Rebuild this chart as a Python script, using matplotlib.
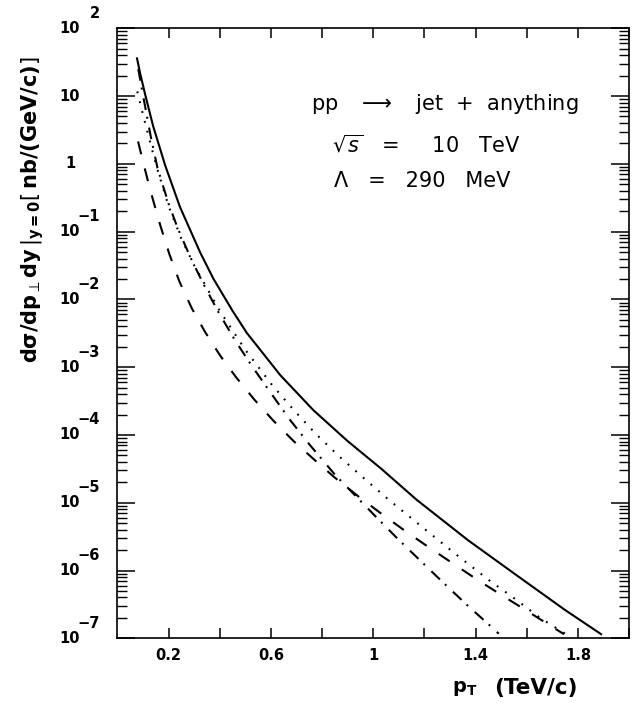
import numpy as np
import matplotlib
matplotlib.use("Agg")
import matplotlib.pyplot as plt
from matplotlib import transforms
from matplotlib.ticker import FixedLocator, FixedFormatter, LogLocator, NullFormatter

plt.rcParams['font.family'] = ['DejaVu Sans']
plt.rcParams['mathtext.fontset'] = 'dejavusans'
plt.rcParams['lines.scale_dashes'] = False

# ---------------- data ----------------
solid_x = [0.077, 0.09, 0.109, 0.14, 0.187, 0.245, 0.324, 0.376, 0.45, 0.506,
           0.637, 0.767, 0.90, 1.03, 1.17, 1.37, 1.56, 1.75, 1.89]
solid_y = [36, 21, 10.5, 3.6, 0.95, 0.23, 0.049, 0.020, 6.8e-3, 3.2e-3,
           7.6e-4, 2.3e-4, 8.1e-5, 3.2e-5, 1.1e-5, 2.8e-6, 8.5e-7, 2.6e-7, 1.15e-7]

dotted_x = [0.078, 0.10, 0.135, 0.155, 0.20, 0.25, 0.30, 0.40, 0.50, 0.604,
            0.689, 0.773, 0.865, 0.956, 1.054, 1.184, 1.315, 1.452, 1.556,
            1.654, 1.758]
dotted_y = [11.7, 5.4, 1.66, 0.87, 0.24, 0.079, 0.032, 6.8e-3, 1.8e-3, 5.5e-4,
            2.34e-4, 1.06e-4, 4.9e-5, 2.43e-5, 1.16e-5, 4.6e-6, 1.83e-6, 7.2e-7,
            3.76e-7, 1.97e-7, 1.12e-7]

dashdot_x = [0.082, 0.10, 0.131, 0.157, 0.20, 0.237, 0.284, 0.336, 0.395, 0.461,
             0.529, 0.597, 0.673, 0.751, 0.85, 1.0, 1.093, 1.181, 1.272, 1.37,
             1.461, 1.49]
dashdot_y = [25, 10.5, 2.5, 0.87, 0.26, 0.11, 0.043, 0.017, 6.5e-3, 2.45e-3,
             1.0e-3, 4.3e-4, 1.7e-4, 7.2e-5, 2.6e-5, 6.8e-6, 3.0e-6, 1.43e-6,
             6.7e-7, 3.0e-7, 1.48e-7, 1.17e-7]

dashed_x = [0.081, 0.10, 0.12, 0.14, 0.169, 0.203, 0.242, 0.291, 0.343, 0.402,
            0.464, 0.536, 0.61, 0.689, 0.773, 0.85, 0.943, 1.038, 1.126, 1.22,
            1.318, 1.409, 1.507, 1.608, 1.711, 1.745]
dashed_y = [2.14, 1.10, 0.55, 0.29, 0.12, 0.047, 0.0186, 7.4e-3, 3.3e-3, 1.48e-3,
            7.1e-4, 3.3e-4, 1.62e-4, 8.1e-5, 4.2e-5, 2.34e-5, 1.23e-5, 6.6e-6,
            3.8e-6, 2.16e-6, 1.22e-6, 7.2e-7, 4.2e-7, 2.43e-7, 1.38e-7, 1.15e-7]

x_ticks = [0.2, 0.4, 0.6, 0.8, 1.0, 1.2, 1.4, 1.6, 1.8, 2.0]
x_ticklabels = ['0.2', '', '0.6', '', '1', '', '1.4', '', '1.8', '']
y_decades = [1e-7, 1e-6, 1e-5, 1e-4, 1e-3, 1e-2, 1e-1, 1e0, 1e1, 1e2]
y_base = ['10', '10', '10', '10', '10', '10', '10', '1', '10', '10']
y_sup = ['\u22127', '\u22126', '\u22125', '\u22124', '\u22123', '\u22122', '\u22121', '', '', '2']

ann_lines = [r'pp   $\longrightarrow$   jet  +  anything',
             r'$\sqrt{s}$   =     10   TeV',
             '\u039b   =   290   MeV']

# ---------------- figure ----------------
W, H = 633, 711
fig = plt.figure(figsize=(W / 100, H / 100), dpi=100)
ax = fig.add_axes([117.3 / W, 1 - 638.3 / H, 512 / W, 610 / H])
ax.set_yscale('log')
ax.set_xlim(0, 2.0)
ax.set_ylim(1e-7, 1e2)

lw = 1.5
ax.plot(solid_x, solid_y, color='black', lw=lw, linestyle='-')
ax.plot(dotted_x, dotted_y, color='black', lw=lw, linestyle=(0, (1.3, 6.0)))
ax.plot(dashdot_x, dashdot_y, color='black', lw=lw, linestyle=(0, (8.5, 5.0, 1.4, 6.5)))
ax.plot(dashed_x, dashed_y, color='black', lw=lw, linestyle=(0, (9.5, 10.5)))

for s in ax.spines.values():
    s.set_linewidth(1.2)

ax.xaxis.set_major_locator(FixedLocator(x_ticks))
ax.xaxis.set_major_formatter(FixedFormatter(x_ticklabels))
ax.tick_params(axis='x', which='major', direction='in', length=7, width=1.1,
               top=True, bottom=True, pad=7, labelsize=10.5)
for lab in ax.get_xticklabels():
    lab.set_fontweight('bold')

ax.yaxis.set_major_locator(FixedLocator(y_decades))
ax.yaxis.set_minor_locator(LogLocator(base=10, subs=np.arange(2, 10), numticks=20))
ax.yaxis.set_major_formatter(NullFormatter())
ax.yaxis.set_minor_formatter(NullFormatter())
ax.tick_params(axis='y', which='major', direction='in', length=13, width=1.1,
               left=True, right=True)
ax.tick_params(axis='y', which='minor', direction='in', length=7, width=1.0,
               left=True, right=True)

# y tick labels: base "10" and raised exponent
blend = transforms.blended_transform_factory(ax.transAxes, ax.transData)
sup_tr = transforms.offset_copy(blend, fig=fig, x=0, y=15, units='dots')
xb = (70 - 117.3) / 512
xs = (100 - 117.3) / 512
for v, b, s in zip(y_decades, y_base, y_sup):
    ax.text(xb, v, b, transform=blend, ha='center', va='center',
            fontsize=10.5, fontweight='bold')
    if s:
        ax.text(xs, v, s, transform=sup_tr, ha='right', va='center',
                fontsize=10.5, fontweight='bold')

# axis labels
fig.text(33 / W, 1 - 210 / H,
         r'$\mathbf{d\sigma/dp}_{\perp}\mathbf{dy}\,|_{\mathbf{y=0}}\left[\,\mathbf{nb/(GeV/c)}\right]$',
         rotation=90, ha='center', va='center', fontsize=15)
fig.text(452 / W, 1 - 689 / H, r'$\mathbf{p}_{\mathbf{T}}$',
         ha='left', va='center', fontsize=14, fontweight='bold')
fig.text(494 / W, 1 - 688 / H, '(TeV/c)',
         ha='left', va='center', fontsize=15.5, fontweight='bold')

# annotation
ann_x = [311, 332, 334]
ann_y = [104, 145, 181]
for t, px, py in zip(ann_lines, ann_x, ann_y):
    fig.text(px / W, 1 - py / H, t, ha='left', va='center', fontsize=15)

fig.savefig('out.png', dpi=100)
